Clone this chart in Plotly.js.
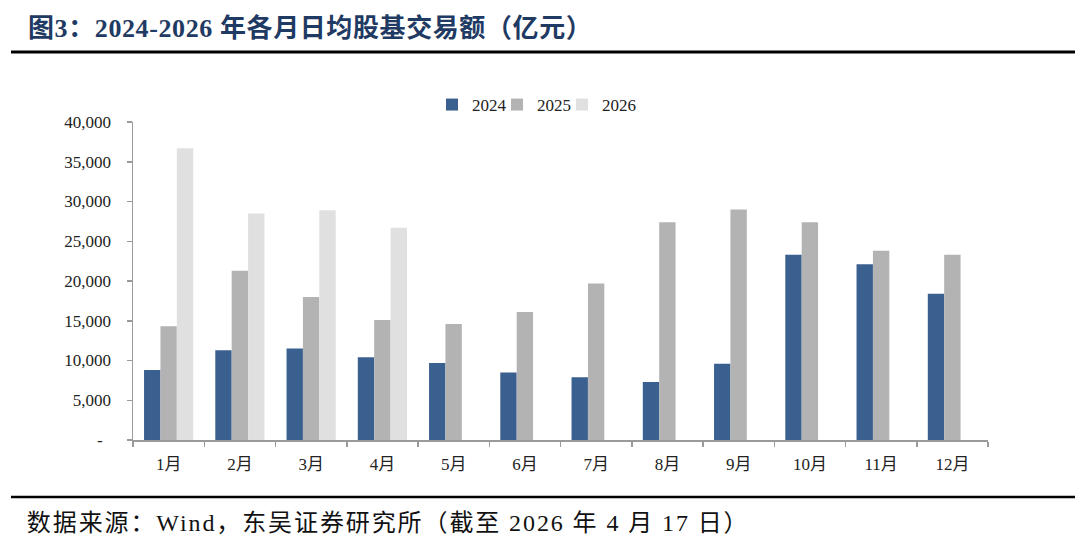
<!DOCTYPE html>
<html>
<head>
<meta charset="utf-8">
<script src="https://cdn.plot.ly/plotly-3.0.1.min.js"></script>
<style>html,body{margin:0;padding:0;background:#fff;}#chart{width:1080px;height:555px;}</style>
</head>
<body>
<div id="chart"></div>
<script>
const months = ["1月","2月","3月","4月","5月","6月","7月","8月","9月","10月","11月","12月"];
const seriesNames = ["2024","2025","2026"];
const v2024 = [8800, 11300, 11500, 10400, 9700, 8500, 7900, 7300, 9600, 23300, 22100, 18400];
const v2025 = [14300, 21300, 18000, 15100, 14600, 16100, 19700, 27400, 29000, 27400, 23800, 23300];
const v2026 = [36700, 28500, 28900, 26700, null, null, null, null, null, null, null, null];
const yTickVals = [0, 5000, 10000, 15000, 20000, 25000, 30000, 35000, 40000];
const yTickText = ["-\u00a0\u00a0", "5,000", "10,000", "15,000", "20,000", "25,000", "30,000", "35,000", "40,000"];
const titleText = "图3：2024-2026 年各月日均股基交易额（亿元）";
const sourceText = "数据来源：Wind，东吴证券研究所（截至 2026 年 4 月 17 日）";

const colors = ["#3a6090", "#b3b3b3", "#e0e0e0"];
const serif = "Liberation Serif, 'Times New Roman', 'Noto Sans CJK SC', serif";
const values = [v2024, v2025, v2026];
const legendIds = ["legend", "legend2", "legend3"];
const legendSquareX = [452, 517, 582];

const traces = seriesNames.map((n, i) => ({
  type: "bar",
  name: n,
  x: months,
  y: values[i],
  legend: legendIds[i],
  marker: {color: colors[i], line: {width: 0}},
  hoverinfo: "skip"
}));

const L = 133, R = 988, T = 122, B = 440;
const px = x => (x - L) / (R - L);
const py = y => (B - y) / (B - T);

const layout = {
  width: 1080, height: 555,
  margin: {l: L, r: 1080 - R, t: T, b: 555 - B},
  paper_bgcolor: "#ffffff",
  plot_bgcolor: "#ffffff",
  barmode: "group",
  bargap: 0.31,
  bargroupgap: 0,
  showlegend: true,
  title: {
    text: "<b>" + titleText + "</b>",
    xref: "container", yref: "container",
    x: 28 / 1080, xanchor: "left",
    y: 1 - 28 / 555, yanchor: "middle",
    font: {family: serif, size: 26, color: "#1f3a63"}
  },
  xaxis: {
    type: "category",
    showgrid: false,
    showline: true, linecolor: "#9a9a9a", linewidth: 1.5,
    ticks: "outside", tickson: "boundaries", ticklen: 5, tickcolor: "#9a9a9a", tickwidth: 1.5,
    tickfont: {family: serif, size: 17, color: "#222"},
    ticklabelstandoff: 8,
    zeroline: false,
    fixedrange: true
  },
  yaxis: {
    range: [0, 40000],
    showgrid: false,
    zeroline: false,
    showline: true, linecolor: "#9a9a9a", linewidth: 1.5,
    ticks: "outside", ticklen: 5, tickcolor: "#9a9a9a", tickwidth: 1.5,
    tickvals: yTickVals, ticktext: yTickText,
    tickfont: {family: serif, size: 17, color: "#222"},
    ticklabelstandoff: 12,
    fixedrange: true
  },
  shapes: [
    {type: "line", xref: "paper", yref: "paper", x0: px(11), x1: px(1075), y0: py(52), y1: py(52), line: {color: "#000", width: 3}},
    {type: "line", xref: "paper", yref: "paper", x0: px(11), x1: px(1075), y0: py(497), y1: py(497), line: {color: "#000", width: 2.5}}
  ],
  annotations: [
    {text: sourceText, xref: "paper", yref: "paper", x: px(60), xanchor: "left", y: py(523), yanchor: "middle",
     showarrow: false, font: {family: serif, size: 24, color: "#111"}}
  ]
};

legendIds.forEach((id, i) => {
  layout[id] = {
    orientation: "h",
    x: px(legendSquareX[i] - 20), xanchor: "left",
    y: py(105), yanchor: "middle",
    font: {family: serif, size: 17, color: "#222"},
    itemwidth: 30,
    bgcolor: "rgba(0,0,0,0)"
  };
});

Plotly.newPlot("chart", traces, layout, {displayModeBar: false, staticPlot: true}).then(gd => {
  gd.querySelectorAll(".annotation-text").forEach(t => t.style.letterSpacing = "1.9px");
  gd.querySelectorAll(".gtitle").forEach(t => t.style.letterSpacing = "0.6px");
});
</script>
</body>
</html>
